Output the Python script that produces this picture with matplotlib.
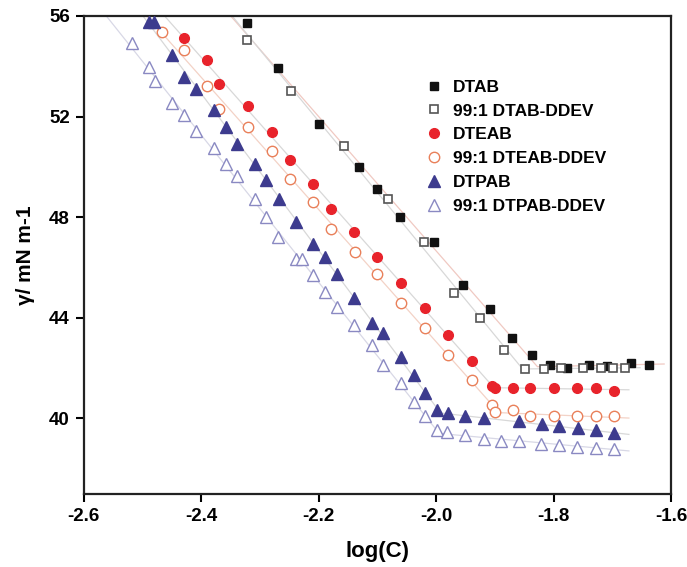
import matplotlib.pyplot as plt
import numpy as np

plt.rcParams['font.family'] = ['Liberation Sans', 'DejaVu Sans']
plt.rcParams['font.weight'] = 'bold'

# DTAB (filled squares)
dtab_x = [-2.322, -2.270, -2.200, -2.132, -2.101, -2.062, -2.004, -1.954, -1.908,
          -1.871, -1.837, -1.806, -1.777, -1.740, -1.709, -1.668, -1.637]
dtab_y = [55.70, 53.91, 51.72, 50.00, 49.13, 48.01, 47.02, 45.30, 44.35,
          43.19, 42.51, 42.12, 42.00, 42.12, 42.08, 42.20, 42.12]
# 99:1 DTAB-DDEV (open squares)
dtabd_x = [-2.322, -2.247, -2.157, -2.082, -2.021, -1.970, -1.925, -1.885,
           -1.849, -1.816, -1.787, -1.750, -1.719, -1.699, -1.678]
dtabd_y = [55.06, 53.03, 50.84, 48.73, 47.02, 44.98, 43.99, 42.71,
           41.96, 41.96, 42.00, 42.00, 42.00, 42.00, 42.00]
# DTEAB (filled circles)
dteab_x = [-2.430, -2.390, -2.370, -2.321, -2.280, -2.249, -2.210, -2.179, -2.140,
           -2.101, -2.060, -2.019, -1.980, -1.939, -1.905, -1.900, -1.869, -1.840,
           -1.799, -1.760, -1.728, -1.697]
dteab_y = [55.14, 54.23, 53.31, 52.43, 51.40, 50.28, 49.33, 48.33, 47.41,
           46.42, 45.38, 44.39, 43.31, 42.27, 41.28, 41.20, 41.20, 41.20,
           41.20, 41.20, 41.20, 41.08]
# 99:1 DTEAB-DDEV (open circles)
dteabd_x = [-2.467, -2.430, -2.390, -2.370, -2.321, -2.280, -2.249, -2.210, -2.179,
            -2.138, -2.101, -2.060, -2.019, -1.980, -1.939, -1.905, -1.900, -1.869,
            -1.840, -1.799, -1.760, -1.728, -1.697]
dteabd_y = [55.34, 54.63, 53.23, 52.31, 51.60, 50.64, 49.53, 48.61, 47.53,
            46.62, 45.74, 44.59, 43.59, 42.51, 41.51, 40.52, 40.24, 40.32,
            40.08, 40.08, 40.08, 40.08, 40.08]
# DTPAB (filled triangles)
dtpab_x = [-2.489, -2.481, -2.450, -2.430, -2.409, -2.379, -2.358, -2.339, -2.309,
           -2.290, -2.268, -2.239, -2.210, -2.189, -2.169, -2.140, -2.109, -2.091,
           -2.060, -2.038, -2.019, -1.999, -1.980, -1.951, -1.919, -1.859, -1.820,
           -1.791, -1.758, -1.728, -1.697]
dtpab_y = [55.74, 55.74, 54.43, 53.59, 53.11, 52.24, 51.60, 50.92, 50.12,
           49.49, 48.73, 47.81, 46.94, 46.42, 45.74, 44.78, 43.79, 43.39,
           42.43, 41.71, 41.00, 40.32, 40.20, 40.08, 40.00, 39.88, 39.76,
           39.68, 39.60, 39.52, 39.41]
# 99:1 DTPAB-DDEV (open triangles)
dtpabd_x = [-2.518, -2.489, -2.479, -2.450, -2.430, -2.409, -2.379, -2.358, -2.339,
            -2.309, -2.290, -2.270, -2.239, -2.229, -2.210, -2.189, -2.169, -2.140,
            -2.109, -2.091, -2.060, -2.038, -2.019, -1.999, -1.982, -1.951, -1.919,
            -1.890, -1.859, -1.821, -1.791, -1.760, -1.728, -1.697]
dtpabd_y = [54.94, 53.95, 53.43, 52.55, 52.04, 51.44, 50.76, 50.12, 49.65,
            48.73, 48.01, 47.21, 46.34, 46.34, 45.70, 45.02, 44.43, 43.71,
            42.91, 42.12, 41.39, 40.66, 40.10, 39.52, 39.44, 39.32, 39.20,
            39.12, 39.12, 39.00, 38.96, 38.88, 38.84, 38.80]

# number of points on the descending part of each curve
n_desc = [11, 8, 15, 16, 22, 24]

series = [
    ('DTAB', dtab_x, dtab_y, dict(marker='s', color='#111111', mfc='#111111', ms=6), '#f0c9c2'),
    ('99:1 DTAB-DDEV', dtabd_x, dtabd_y, dict(marker='s', color='#555555', mfc='white', ms=6, mew=1.2), '#d8d8d8'),
    ('DTEAB', dteab_x, dteab_y, dict(marker='o', color='#e8232b', mfc='#e8232b', ms=7), '#d8d8d8'),
    ('99:1 DTEAB-DDEV', dteabd_x, dteabd_y, dict(marker='o', color='#e9805a', mfc='white', ms=7.5, mew=1.0), '#f3d2c6'),
    ('DTPAB', dtpab_x, dtpab_y, dict(marker='^', color='#3d3b8e', mfc='#3d3b8e', ms=8), '#d8d8d8'),
    ('99:1 DTPAB-DDEV', dtpabd_x, dtpabd_y, dict(marker='^', color='#8a89c2', mfc='white', ms=8, mew=1.0), '#d8d8e6'),
]

fig = plt.figure(figsize=(6.87, 5.67), dpi=100)
ax = fig.add_axes([0.122, 0.129, 0.855, 0.843])

for (label, xs, ys, st, lc), nd in zip(series, n_desc):
    xs = np.array(xs)
    ys = np.array(ys)
    a1, b1 = np.polyfit(xs[:nd], ys[:nd], 1)
    a2, b2 = np.polyfit(xs[nd:], ys[nd:], 1)
    xb = (b2 - b1) / (a1 - a2)
    x0 = (57 - b1) / a1
    x1 = xs[-1] + 0.025
    ax.plot([x0, xb, x1], [a1 * x0 + b1, a1 * xb + b1, a2 * x1 + b2],
            color=lc, lw=0.9, zorder=1)
    ax.plot(xs, ys, ls='none', label=label, zorder=3, **st)

ax.set_xlim(-2.6, -1.6)
ax.set_ylim(37, 56)
ax.set_xticks([-2.6, -2.4, -2.2, -2.0, -1.8, -1.6])
ax.set_xticklabels(['-2.6', '-2.4', '-2.2', '-2.0', '-1.8', '-1.6'])
ax.set_yticks([40, 44, 48, 52, 56])
ax.tick_params(direction='out', length=6, width=1.5, labelsize=13.5, pad=4)
for lab in ax.get_xticklabels() + ax.get_yticklabels():
    lab.set_fontweight('bold')
for sp in ax.spines.values():
    sp.set_linewidth(1.6)
    sp.set_color('#222222')

ax.set_xlabel('log(C)', fontsize=16, fontweight='bold', labelpad=12)
ax.set_ylabel('γ/ mN m-1', fontsize=15, fontweight='bold', labelpad=10)

leg = ax.legend(loc='upper left', bbox_to_anchor=(0.57, 0.885), frameon=False,
                fontsize=12.5, handlelength=0.8, handletextpad=0.7,
                labelspacing=0.5, borderpad=0)
for t in leg.get_texts():
    t.set_fontweight('bold')

fig.savefig('out.png', dpi=100)
